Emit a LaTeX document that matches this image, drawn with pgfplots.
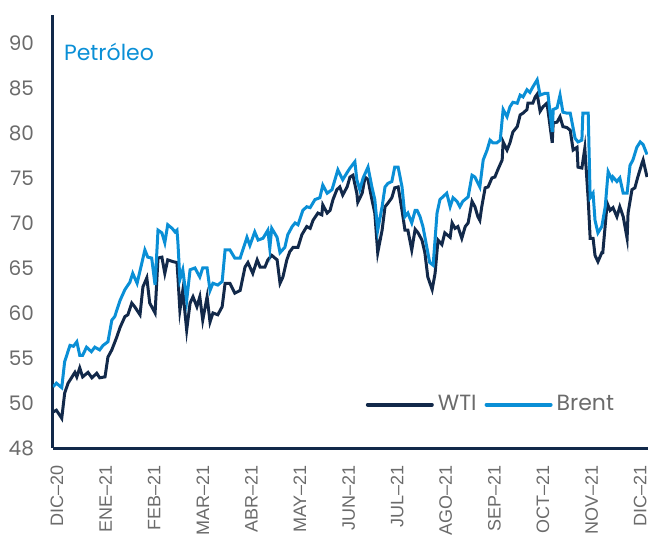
\documentclass[border=0pt]{standalone}
\usepackage{pgfplots}
\pgfplotsset{compat=1.18}
\usepackage{pgfplotstable}
\usepackage{fontspec}
\setmainfont{Poppins}
\newfontfamily\arialf{Liberation Sans}

\definecolor{wti}{HTML}{12294A}
\definecolor{brent}{HTML}{0A8FD6}
\definecolor{lbl}{HTML}{6B6B6B}

% x = months since Dec-20
\pgfplotstableread{
x y
-0.08 49.0
-0.01 49.2
0.10 48.3
0.16 51.1
0.23 52.2
0.30 52.8
0.37 53.4
0.41 52.9
0.47 53.9
0.53 52.9
0.64 53.4
0.72 52.8
0.82 53.3
0.88 52.8
0.99 52.9
1.05 55.1
1.13 55.9
1.23 57.3
1.30 58.4
1.40 59.6
1.46 59.8
1.54 61.1
1.60 60.7
1.71 59.8
1.77 62.9
1.85 63.9
1.91 61.1
2.02 60.0
2.08 66.1
2.16 66.2
2.22 64.4
2.28 65.9
2.39 65.7
2.47 65.6
2.49 64.0
2.53 60.3
2.59 62.5
2.67 58.1
2.74 61.1
2.80 61.8
2.88 60.7
2.94 61.8
3.00 59.2
3.09 61.8
3.15 59.0
3.21 60.0
3.31 59.8
3.40 60.7
3.46 63.3
3.56 63.3
3.66 62.2
3.77 62.5
3.87 65.1
3.93 65.6
4.03 64.4
4.12 65.9
4.18 65.1
4.28 65.1
4.34 65.9
4.42 66.4
4.53 65.9
4.59 63.3
4.65 64.0
4.73 65.9
4.79 66.8
4.86 67.3
4.96 67.3
5.04 68.7
5.14 69.6
5.21 69.4
5.27 70.3
5.37 71.1
5.45 70.9
5.47 72.0
5.56 71.1
5.62 71.4
5.68 72.6
5.76 73.7
5.82 74.0
5.88 73.1
5.97 74.0
6.03 75.1
6.09 75.3
6.17 73.3
6.19 72.3
6.28 73.3
6.34 75.1
6.40 74.8
6.48 72.6
6.54 71.1
6.60 66.7
6.69 69.2
6.75 71.8
6.81 72.2
6.89 72.8
6.95 73.9
7.02 74.0
7.10 71.4
7.16 69.2
7.22 69.2
7.30 67.0
7.37 69.3
7.43 68.9
7.51 68.1
7.57 66.7
7.63 64.0
7.72 62.6
7.78 64.4
7.84 68.1
7.92 67.6
7.98 68.9
8.09 68.4
8.13 70.0
8.19 69.4
8.25 69.6
8.33 68.3
8.40 69.6
8.46 70.0
8.54 72.4
8.60 71.8
8.66 70.7
8.70 70.3
8.74 71.8
8.81 73.9
8.87 74.0
8.95 75.0
9.01 75.1
9.07 75.9
9.16 77.0
9.18 79.0
9.26 78.1
9.32 78.9
9.38 80.1
9.47 80.7
9.53 82.0
9.59 82.2
9.67 82.6
9.69 83.3
9.79 83.3
9.84 84.0
9.88 84.3
9.94 82.4
10.00 82.9
10.08 83.3
10.10 82.6
10.19 78.9
10.21 81.1
10.29 81.2
10.35 81.8
10.41 80.7
10.49 80.6
10.56 80.3
10.62 78.1
10.70 78.4
10.72 76.2
10.80 76.1
10.86 78.3
10.93 72.6
10.97 68.3
11.03 68.3
11.07 66.4
11.13 65.7
11.21 66.7
11.23 66.7
11.32 72.2
11.38 71.4
11.44 71.7
11.52 70.7
11.58 71.8
11.65 70.7
11.73 68.3
11.75 71.1
11.83 73.7
11.89 73.9
11.95 75.1
12.04 76.7
12.06 77.0
12.14 75.1
}\wtidata

\pgfplotstableread{
x y
-0.08 51.8
-0.01 52.2
0.10 51.7
0.16 54.6
0.27 56.4
0.34 56.3
0.41 56.8
0.47 55.3
0.53 55.3
0.61 56.2
0.71 55.7
0.78 56.2
0.88 55.9
0.95 56.4
1.05 56.8
1.13 59.2
1.19 59.6
1.30 61.4
1.40 62.6
1.50 63.4
1.56 64.4
1.65 63.3
1.75 65.6
1.81 67.0
1.87 66.2
1.95 66.1
2.02 63.1
2.08 69.2
2.16 68.9
2.22 67.8
2.28 69.8
2.37 69.4
2.43 69.0
2.47 69.2
2.49 67.8
2.53 63.7
2.59 64.8
2.67 61.4
2.74 64.8
2.84 65.0
2.94 64.0
3.00 65.0
3.09 65.0
3.15 62.5
3.21 63.3
3.31 63.1
3.40 63.5
3.46 67.0
3.56 67.0
3.66 66.1
3.77 66.1
3.91 68.4
3.97 67.5
4.07 69.0
4.14 68.1
4.24 68.3
4.34 69.2
4.38 67.2
4.42 69.4
4.53 68.4
4.59 66.7
4.69 67.3
4.75 68.7
4.84 69.6
4.90 70.0
4.96 69.8
5.06 71.4
5.14 71.8
5.21 71.7
5.31 72.6
5.41 72.8
5.47 74.2
5.56 73.3
5.66 73.7
5.72 74.8
5.78 75.9
5.88 74.8
5.97 75.6
6.03 76.1
6.13 76.8
6.17 74.8
6.23 73.7
6.30 75.0
6.40 76.2
6.48 74.0
6.54 72.6
6.60 69.2
6.69 71.8
6.75 74.0
6.81 74.4
6.89 74.6
6.95 76.2
7.02 76.2
7.10 74.0
7.16 70.7
7.22 71.1
7.30 70.0
7.37 71.4
7.41 71.4
7.47 70.7
7.53 69.6
7.61 67.3
7.67 65.6
7.74 65.3
7.82 71.1
7.88 72.6
7.94 72.9
8.02 73.3
8.09 71.8
8.15 72.8
8.23 72.4
8.29 71.8
8.35 72.4
8.46 72.9
8.54 75.3
8.60 75.1
8.70 74.0
8.77 77.0
8.85 78.1
8.91 79.2
8.97 78.9
9.05 78.9
9.12 79.2
9.18 82.6
9.26 81.8
9.32 82.9
9.38 83.4
9.47 83.3
9.53 84.2
9.59 84.0
9.67 84.8
9.73 84.5
9.79 85.1
9.88 85.9
9.94 84.2
10.04 84.4
10.10 84.4
10.19 80.1
10.21 82.6
10.29 82.8
10.35 84.2
10.41 82.3
10.49 82.2
10.56 82.2
10.60 81.1
10.66 79.4
10.72 79.0
10.80 79.2
10.82 82.2
10.93 82.2
10.97 72.8
11.03 73.3
11.07 70.3
11.13 68.9
11.21 69.6
11.28 71.8
11.34 75.7
11.42 74.8
11.44 75.1
11.52 74.6
11.58 75.0
11.65 73.3
11.73 73.3
11.79 76.4
11.85 77.0
11.93 78.4
12.00 79.0
12.06 78.7
12.14 77.6
}\brentdata

\begin{document}
\begin{tikzpicture}
\begin{axis}[
    scale only axis,
    width=297.5pt,
    height=216.5pt,
    xmin=-0.08, xmax=12.16,
    ymin=45, ymax=93.1,
    axis x line=bottom,
    axis y line=left,
    axis line style={-, line width=1.5pt, color=wti},
    major tick length=0pt,
    ytick={45,50,55,60,65,70,75,80,85,90},
    yticklabels={48,50,55,60,65,70,75,80,85,90},
    yticklabel style={font=\fontsize{10}{12}\selectfont, text=lbl},
    yticklabel shift=6pt,
    xtick={0,1,...,12},
    xticklabels={DIC–20,ENE–21,FEB–21,MAR–21,ABR–21,MAY–21,JUN–21,JUL–21,AGO–21,SEP–21,OCT–21,NOV–21,DIC–21},
    xticklabel style={font=\arialf\fontsize{9}{11}\selectfont, text=lbl, rotate=90, anchor=east},
    xticklabel shift=5pt,
    legend style={at={(0.515,0.10)}, anchor=west, draw=none, fill=none,
        font=\fontsize{11}{13}\selectfont, text=lbl,
        /tikz/every even column/.append style={column sep=2pt}},
    legend columns=2,
    legend image code/.code={\draw[#1, line width=2pt, line cap=round] (0pt,0pt) -- (32pt,0pt);},
]
\addplot[wti, line width=1.5pt] table[x=x, y=y] {\wtidata};
\addplot[brent, line width=1.5pt] table[x=x, y=y] {\brentdata};
\legend{WTI, Brent}
\node[anchor=west, text=brent, font=\fontsize{11}{13}\selectfont, inner sep=0pt] at (rel axis cs:0.018,0.915) {Petróleo};
\coordinate (sw) at (rel axis cs:0,0);
\coordinate (ne) at (rel axis cs:1,1);
\end{axis}
\pgfresetboundingbox
\path ([shift={(-26.5pt,-44.5pt)}]sw) rectangle ([shift={(0pt,7.5pt)}]ne);
\end{tikzpicture}
\end{document}
